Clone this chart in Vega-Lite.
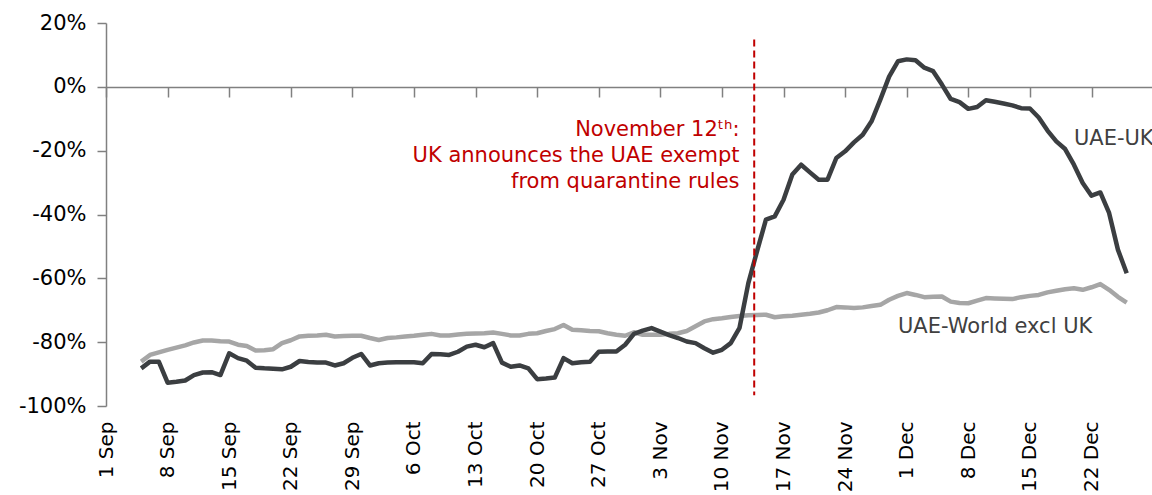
{
  "$schema": "https://vega.github.io/schema/vega-lite/v6.json",
  "width": 1046,
  "height": 383,
  "autosize": {"type": "none"},
  "padding": {"left": 106, "top": 23, "right": 0, "bottom": 89},
  "background": "white",
  "config": {"view": {"stroke": null}, "font": "DejaVu Sans"},
  "datasets": {
    "series": [
      {"date": "2020-09-05", "uk": -88.2, "world": -86.1},
      {"date": "2020-09-06", "uk": -86.1, "world": -84.0},
      {"date": "2020-09-07", "uk": -86.1, "world": -83.2},
      {"date": "2020-09-08", "uk": -92.7, "world": -82.4},
      {"date": "2020-09-09", "uk": -92.4, "world": -81.7},
      {"date": "2020-09-10", "uk": -92.0, "world": -81.0},
      {"date": "2020-09-11", "uk": -90.3, "world": -80.1},
      {"date": "2020-09-12", "uk": -89.5, "world": -79.5},
      {"date": "2020-09-13", "uk": -89.4, "world": -79.5},
      {"date": "2020-09-14", "uk": -90.3, "world": -79.7},
      {"date": "2020-09-15", "uk": -83.5, "world": -79.8},
      {"date": "2020-09-16", "uk": -85.0, "world": -80.8},
      {"date": "2020-09-17", "uk": -85.8, "world": -81.2},
      {"date": "2020-09-18", "uk": -88.0, "world": -82.6},
      {"date": "2020-09-19", "uk": -88.2, "world": -82.5},
      {"date": "2020-09-20", "uk": -88.3, "world": -82.2},
      {"date": "2020-09-21", "uk": -88.5, "world": -80.3},
      {"date": "2020-09-22", "uk": -87.7, "world": -79.4},
      {"date": "2020-09-23", "uk": -85.9, "world": -78.2},
      {"date": "2020-09-24", "uk": -86.2, "world": -78.0},
      {"date": "2020-09-25", "uk": -86.4, "world": -77.9},
      {"date": "2020-09-26", "uk": -86.4, "world": -77.7},
      {"date": "2020-09-27", "uk": -87.3, "world": -78.2},
      {"date": "2020-09-28", "uk": -86.6, "world": -78.1},
      {"date": "2020-09-29", "uk": -84.9, "world": -78.0},
      {"date": "2020-09-30", "uk": -83.7, "world": -78.0},
      {"date": "2020-10-01", "uk": -87.3, "world": -78.7},
      {"date": "2020-10-02", "uk": -86.6, "world": -79.3},
      {"date": "2020-10-03", "uk": -86.4, "world": -78.7},
      {"date": "2020-10-04", "uk": -86.3, "world": -78.5},
      {"date": "2020-10-05", "uk": -86.3, "world": -78.2},
      {"date": "2020-10-06", "uk": -86.3, "world": -78.0},
      {"date": "2020-10-07", "uk": -86.6, "world": -77.7},
      {"date": "2020-10-08", "uk": -83.7, "world": -77.4},
      {"date": "2020-10-09", "uk": -83.8, "world": -77.9},
      {"date": "2020-10-10", "uk": -84.0, "world": -77.9},
      {"date": "2020-10-11", "uk": -83.0, "world": -77.6},
      {"date": "2020-10-12", "uk": -81.4, "world": -77.4},
      {"date": "2020-10-13", "uk": -80.8, "world": -77.3},
      {"date": "2020-10-14", "uk": -81.6, "world": -77.2},
      {"date": "2020-10-15", "uk": -80.3, "world": -77.0},
      {"date": "2020-10-16", "uk": -86.4, "world": -77.4},
      {"date": "2020-10-17", "uk": -87.7, "world": -77.9},
      {"date": "2020-10-18", "uk": -87.3, "world": -77.9},
      {"date": "2020-10-19", "uk": -88.2, "world": -77.4},
      {"date": "2020-10-20", "uk": -91.6, "world": -77.2},
      {"date": "2020-10-21", "uk": -91.4, "world": -76.5},
      {"date": "2020-10-22", "uk": -91.1, "world": -75.9},
      {"date": "2020-10-23", "uk": -85.0, "world": -74.6},
      {"date": "2020-10-24", "uk": -86.6, "world": -76.1},
      {"date": "2020-10-25", "uk": -86.3, "world": -76.3},
      {"date": "2020-10-26", "uk": -86.1, "world": -76.5},
      {"date": "2020-10-27", "uk": -83.0, "world": -76.6},
      {"date": "2020-10-28", "uk": -82.9, "world": -77.2},
      {"date": "2020-10-29", "uk": -82.9, "world": -77.7},
      {"date": "2020-10-30", "uk": -80.8, "world": -78.0},
      {"date": "2020-10-31", "uk": -77.4, "world": -76.9},
      {"date": "2020-11-01", "uk": -76.4, "world": -77.7},
      {"date": "2020-11-02", "uk": -75.6, "world": -77.7},
      {"date": "2020-11-03", "uk": -76.7, "world": -77.7},
      {"date": "2020-11-04", "uk": -77.8, "world": -77.4},
      {"date": "2020-11-05", "uk": -78.7, "world": -77.2},
      {"date": "2020-11-06", "uk": -79.8, "world": -76.5},
      {"date": "2020-11-07", "uk": -80.3, "world": -75.0},
      {"date": "2020-11-08", "uk": -81.9, "world": -73.5},
      {"date": "2020-11-09", "uk": -83.3, "world": -72.8},
      {"date": "2020-11-10", "uk": -82.4, "world": -72.5},
      {"date": "2020-11-11", "uk": -80.3, "world": -72.1},
      {"date": "2020-11-12", "uk": -75.5, "world": -71.8},
      {"date": "2020-11-13", "uk": -61.5, "world": -71.6},
      {"date": "2020-11-14", "uk": -51.4, "world": -71.5},
      {"date": "2020-11-15", "uk": -41.6, "world": -71.4},
      {"date": "2020-11-16", "uk": -40.6, "world": -72.2},
      {"date": "2020-11-17", "uk": -35.4, "world": -71.9},
      {"date": "2020-11-18", "uk": -27.5, "world": -71.7},
      {"date": "2020-11-19", "uk": -24.4, "world": -71.4},
      {"date": "2020-11-20", "uk": -26.8, "world": -71.1},
      {"date": "2020-11-21", "uk": -29.1, "world": -70.7},
      {"date": "2020-11-22", "uk": -29.1, "world": -70.0},
      {"date": "2020-11-23", "uk": -22.3, "world": -69.0},
      {"date": "2020-11-24", "uk": -20.2, "world": -69.1},
      {"date": "2020-11-25", "uk": -17.4, "world": -69.3},
      {"date": "2020-11-26", "uk": -15.0, "world": -69.1},
      {"date": "2020-11-27", "uk": -10.8, "world": -68.7},
      {"date": "2020-11-28", "uk": -4.0, "world": -68.3},
      {"date": "2020-11-29", "uk": 3.2, "world": -66.7},
      {"date": "2020-11-30", "uk": 8.0, "world": -65.5},
      {"date": "2020-12-01", "uk": 8.6, "world": -64.6},
      {"date": "2020-12-02", "uk": 8.3, "world": -65.2},
      {"date": "2020-12-03", "uk": 6.0, "world": -65.9},
      {"date": "2020-12-04", "uk": 4.9, "world": -65.8},
      {"date": "2020-12-05", "uk": 0.7, "world": -65.7},
      {"date": "2020-12-06", "uk": -3.8, "world": -67.3},
      {"date": "2020-12-07", "uk": -4.8, "world": -67.7},
      {"date": "2020-12-08", "uk": -6.9, "world": -67.8},
      {"date": "2020-12-09", "uk": -6.3, "world": -67.0},
      {"date": "2020-12-10", "uk": -4.2, "world": -66.2},
      {"date": "2020-12-11", "uk": -4.7, "world": -66.3},
      {"date": "2020-12-12", "uk": -5.2, "world": -66.4},
      {"date": "2020-12-13", "uk": -5.8, "world": -66.5},
      {"date": "2020-12-14", "uk": -6.7, "world": -65.9},
      {"date": "2020-12-15", "uk": -6.8, "world": -65.5},
      {"date": "2020-12-16", "uk": -9.6, "world": -65.2},
      {"date": "2020-12-17", "uk": -13.7, "world": -64.4},
      {"date": "2020-12-18", "uk": -17.1, "world": -63.9},
      {"date": "2020-12-19", "uk": -19.5, "world": -63.4},
      {"date": "2020-12-20", "uk": -24.4, "world": -63.1},
      {"date": "2020-12-21", "uk": -30.1, "world": -63.6},
      {"date": "2020-12-22", "uk": -34.1, "world": -62.8},
      {"date": "2020-12-23", "uk": -33.1, "world": -61.8},
      {"date": "2020-12-24", "uk": -39.5, "world": -63.6},
      {"date": "2020-12-25", "uk": -51.0, "world": -65.8},
      {"date": "2020-12-26", "uk": -58.4, "world": -67.6}
    ],
    "event": [
      {"date": "2020-11-13T16:00:00Z", "top": 14.8, "bottom": -96.6, "labelDate": "2020-11-12", "labelValue": -10.0, "label": "November 12ᵗʰ:\nUK announces the UAE exempt\nfrom quarantine rules"}
    ],
    "labels": [
      {"date": "2020-12-20", "value": -16.4, "text": "UAE-UK"},
      {"date": "2020-11-30", "value": -75.1, "text": "UAE-World excl UK"}
    ]
  },
  "layer": [
    {
      "data": {"name": "series"},
      "mark": {"type": "line", "strokeWidth": 4.5, "color": "#a6a6a6", "strokeJoin": "round"},
      "encoding": {
        "x": {
          "field": "date", "type": "temporal",
          "scale": {"type": "utc", "domain": [{"year": 2020, "month": 9, "date": 1, "utc": true}, {"year": 2020, "month": 12, "date": 28, "hours": 21, "utc": true}]},
          "axis": {
            "title": null,
            "values": [
              {"year": 2020, "month": 9, "date": 1, "utc": true},
              {"year": 2020, "month": 9, "date": 8, "utc": true},
              {"year": 2020, "month": 9, "date": 15, "utc": true},
              {"year": 2020, "month": 9, "date": 22, "utc": true},
              {"year": 2020, "month": 9, "date": 29, "utc": true},
              {"year": 2020, "month": 10, "date": 6, "utc": true},
              {"year": 2020, "month": 10, "date": 13, "utc": true},
              {"year": 2020, "month": 10, "date": 20, "utc": true},
              {"year": 2020, "month": 10, "date": 27, "utc": true},
              {"year": 2020, "month": 11, "date": 3, "utc": true},
              {"year": 2020, "month": 11, "date": 10, "utc": true},
              {"year": 2020, "month": 11, "date": 17, "utc": true},
              {"year": 2020, "month": 11, "date": 24, "utc": true},
              {"year": 2020, "month": 12, "date": 1, "utc": true},
              {"year": 2020, "month": 12, "date": 8, "utc": true},
              {"year": 2020, "month": 12, "date": 15, "utc": true},
              {"year": 2020, "month": 12, "date": 22, "utc": true}
            ],
            "format": "%-d %b",
            "labelAngle": -90,
            "offset": -319,
            "tickSize": 10,
            "labelPadding": 324,
            "domainColor": "#808080",
            "tickColor": "#808080",
            "domainWidth": 1.5,
            "tickWidth": 1.5,
            "labelFontSize": 20,
            "labelColor": "#000000",
            "labelOverlap": false,
            "labelFlush": false,
            "grid": false
          }
        },
        "y": {
          "field": "world", "type": "quantitative",
          "scale": {"domain": [-100, 20], "nice": false},
          "axis": {
            "title": null,
            "values": [-100, -80, -60, -40, -20, 0, 20],
            "labelExpr": "datum.value + '%'",
            "tickSize": 9,
            "labelPadding": 11,
            "domainColor": "#808080",
            "tickColor": "#808080",
            "domainWidth": 1.5,
            "tickWidth": 1.5,
            "labelFontSize": 21,
            "labelColor": "#000000",
            "grid": false
          }
        }
      }
    },
    {
      "data": {"name": "series"},
      "mark": {"type": "line", "strokeWidth": 4.5, "color": "#3b3e41", "strokeJoin": "round"},
      "encoding": {
        "x": {"field": "date", "type": "temporal"},
        "y": {"field": "uk", "type": "quantitative"}
      }
    },
    {
      "data": {"name": "event"},
      "mark": {"type": "rule", "color": "#c00000", "strokeWidth": 2, "strokeDash": [7, 4]},
      "encoding": {
        "x": {"field": "date", "type": "temporal"},
        "y": {"field": "top", "type": "quantitative"},
        "y2": {"field": "bottom"}
      }
    },
    {
      "data": {"name": "event"},
      "mark": {"type": "text", "align": "right", "baseline": "top", "lineBreak": "\n", "lineHeight": 26, "fontSize": 21, "color": "#c00000"},
      "encoding": {
        "x": {"field": "labelDate", "type": "temporal"},
        "y": {"field": "labelValue", "type": "quantitative"},
        "text": {"field": "label"}
      }
    },
    {
      "data": {"name": "labels"},
      "mark": {"type": "text", "align": "left", "baseline": "middle", "fontSize": 21, "color": "#404040"},
      "encoding": {
        "x": {"field": "date", "type": "temporal"},
        "y": {"field": "value", "type": "quantitative"},
        "text": {"field": "text"}
      }
    }
  ]
}
